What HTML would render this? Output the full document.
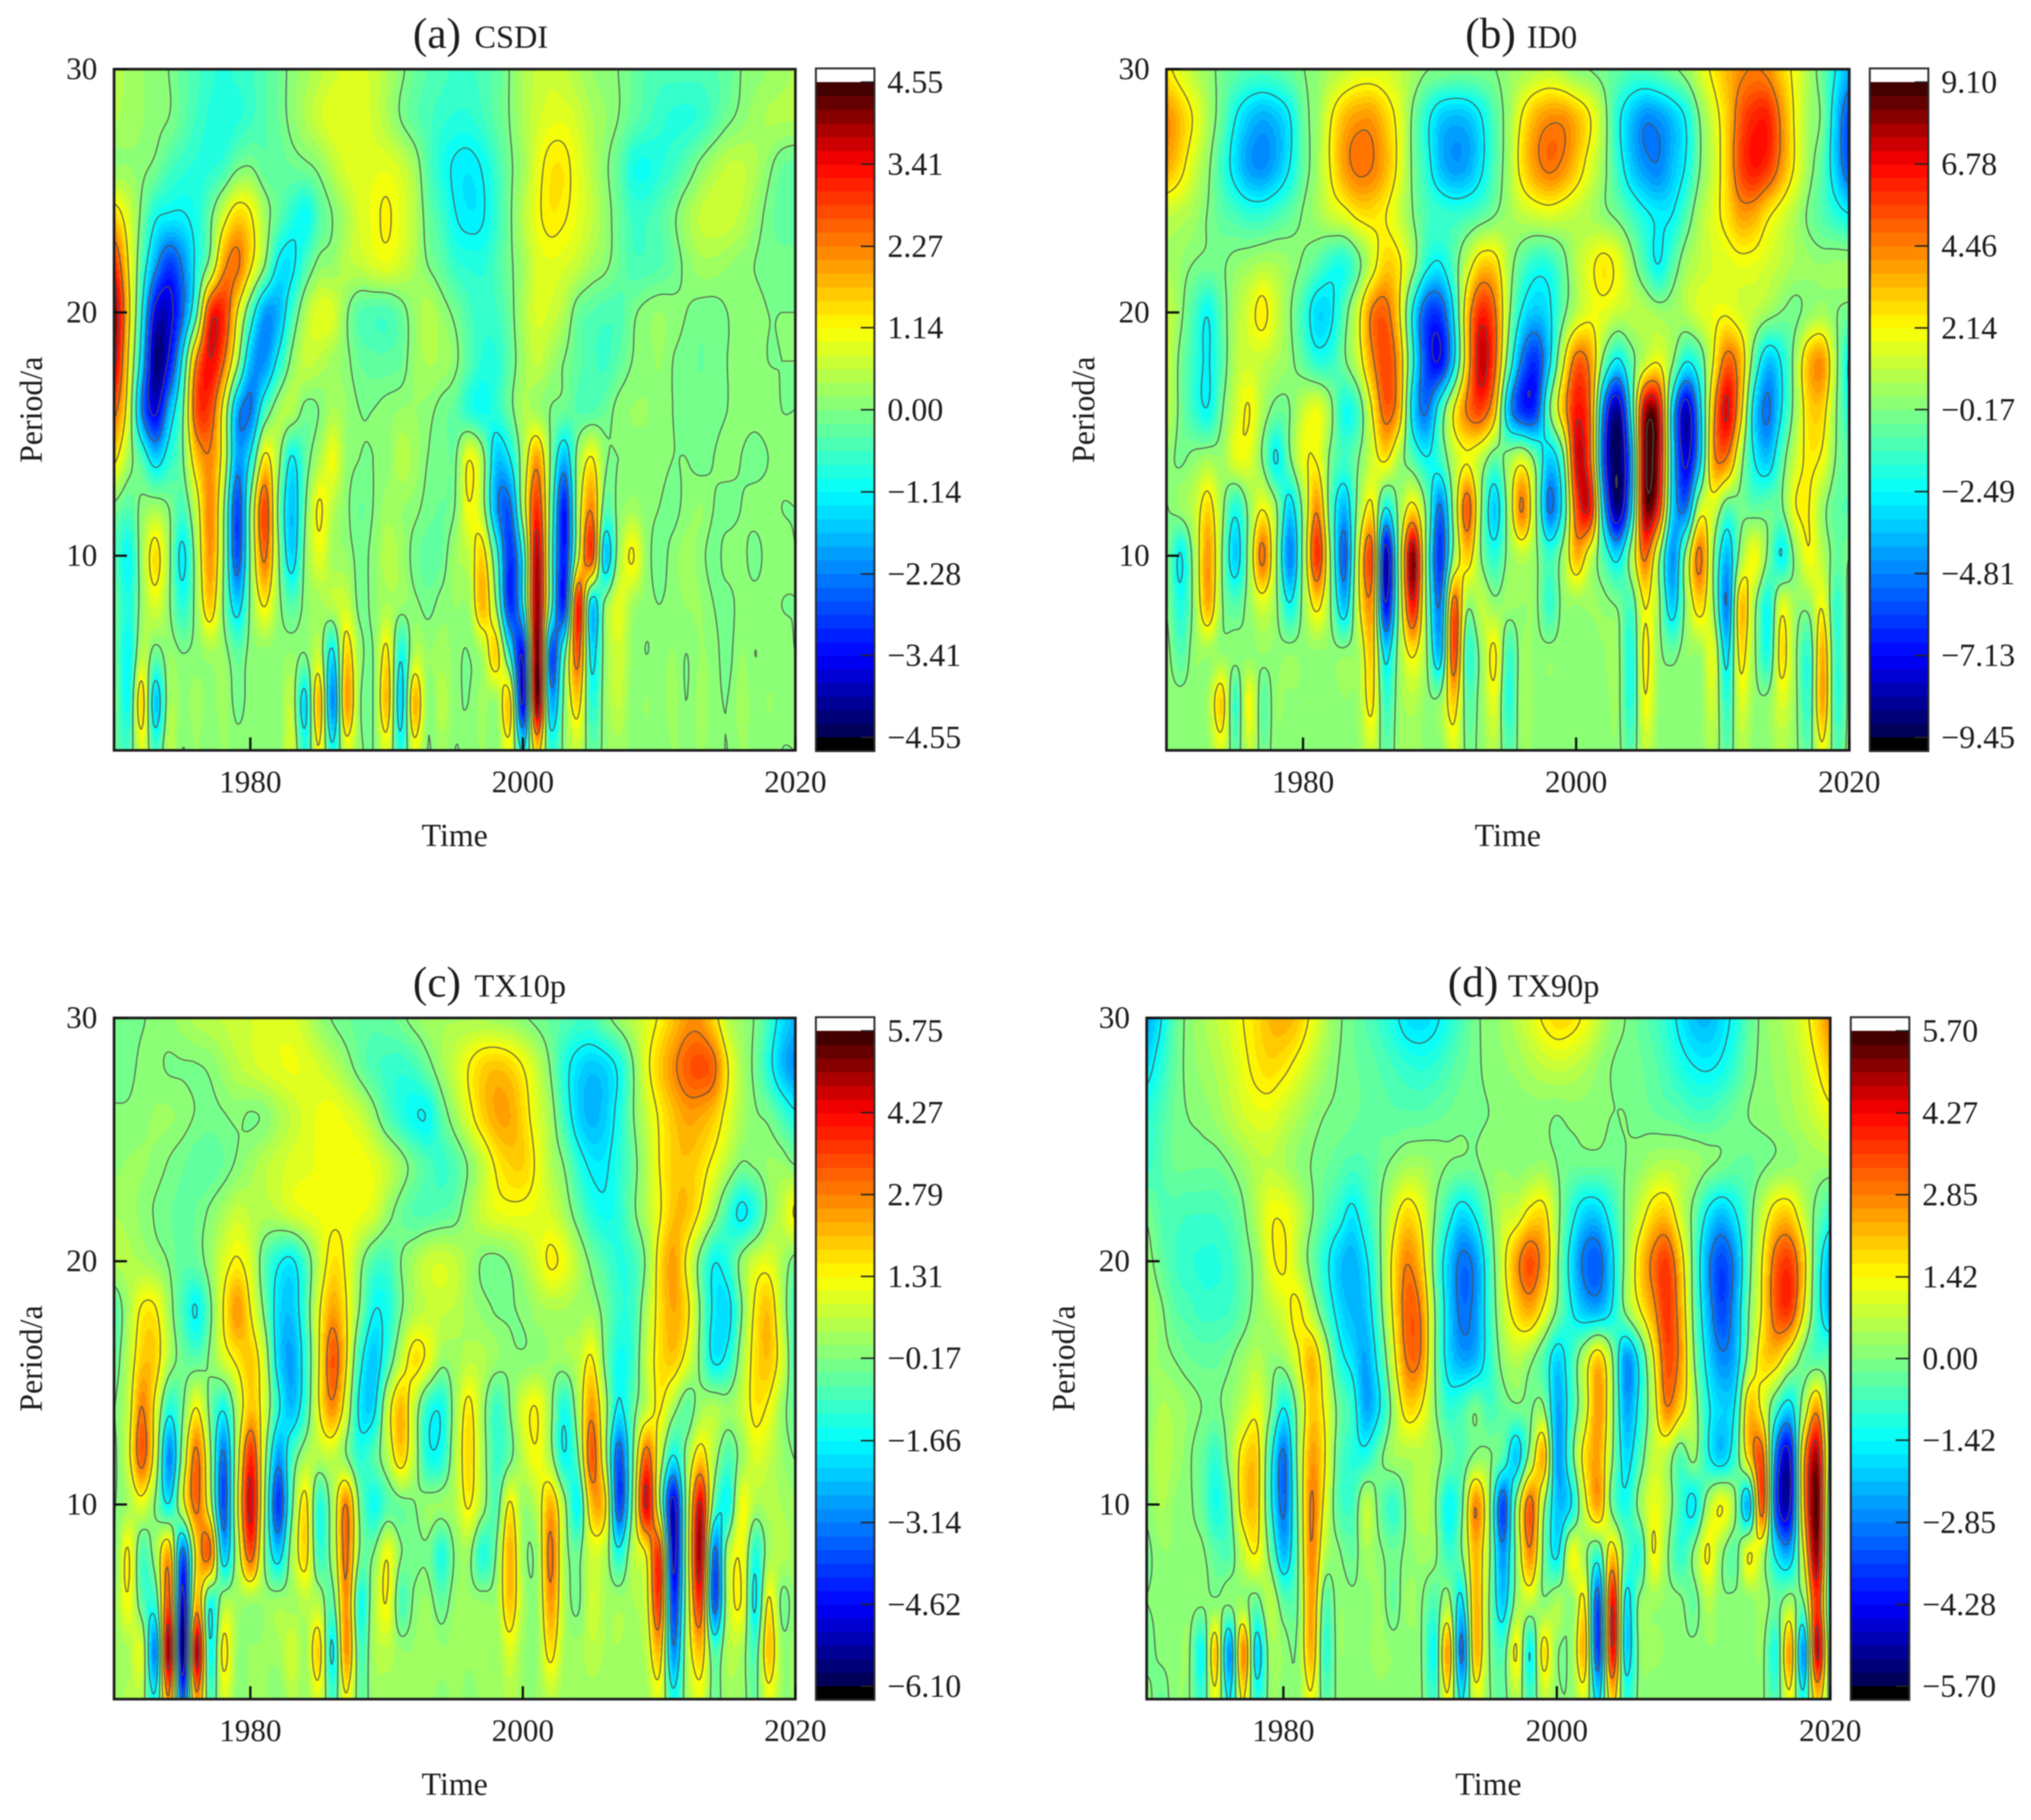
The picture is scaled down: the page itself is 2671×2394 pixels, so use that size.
<!DOCTYPE html>
<html lang="en">
<head>
<meta charset="utf-8">
<title>Wavelet period-time charts</title>
<style>
html,body{margin:0;padding:0;background:#fff;}
svg{display:block;filter:blur(.7px);}
text{font-family:"Liberation Serif","Times New Roman",serif;fill:#1c1c1c;}
</style>
</head>
<body>
<svg id="chart" xmlns="http://www.w3.org/2000/svg" width="2671" height="2394" viewBox="0 0 2671 2394"></svg>
<script>
const years=[1970,1971,1972,1973,1974,1975,1976,1977,1978,1979,1980,1981,1982,1983,1984,1985,1986,1987,1988,1989,1990,1991,1992,1993,1994,1995,1996,1997,1998,1999,2000,2001,2002,2003,2004,2005,2006,2007,2008,2009,2010,2011,2012,2013,2014,2015,2016,2017,2018,2019,2020];
const periods=[30,28,26,24,22,20,18,16,14,12,10,8,6,4,2];
const xTickLabels=[1980,2000,2020];
const yTickLabels=[10,20,30];
const barTicksA=["4.55","3.41","2.27","1.14","0.00","-1.14","-2.28","-3.41","-4.55"];
const barTicksB=["9.10","6.78","4.46","2.14","-0.17","-2.49","-4.81","-7.13","-9.45"];
const barTicksC=["5.75","4.27","2.79","1.31","-0.17","-1.66","-3.14","-4.62","-6.10"];
const barTicksD=["5.70","4.27","2.85","1.42","0.00","-1.42","-2.85","-4.28","-5.70"];
const valuesA=[
[.5,.3,.2,.1,0,-.3,-.5,-.7,-.8,-.7, -.6,-.4,-.2,.1,.3,.5,.7,.8,.8,.7, .4,.1,-.2,-.4,-.5,-.6,-.6,-.5,-.3,0, .4,.6,.7,.6,.4,.2,.1,0,-.2,-.4, -.5,-.5,-.5,-.5,-.4,-.3,0,.1,.2,.3, .4],
[.4,.3,.2,.1,0,-.3,-.6,-.8,-.9,-.8, -.6,-.4,-.2,.1,.4,.7,.9,.9,.9,.7, .4,0,-.3,-.5,-.7,-.8,-.8,-.6,-.3,0, .4,.7,.9,.9,.7,.4,.2,0,-.3,-.5, -.7,-.8,-.8,-.7,-.4,-.1,.1,.3,.4,.4, .4],
[.2,.2,.1,-.1,-.5,-.7,-.8,-.8,-.6,-.1, 0,-.3,-.3,-.2,-.1,.1,.5,.8,.9,.9, .9,.7,.3,-.4,-.9,-1.2,-1.3,-1.1,-.6,-.1, .3,.9,1.3,1.3,.9,.5,.1,-.3,-.9,-1, -.8,-.6,-.3,.1,.4,.6,.6,.4,.1,-.2, -.3],
[1.5,.8,-.1,-1,-1.2,-1.2,-.9,-.2,.8,1.5, 1.2,.3,-.3,-.8,-1.1,-.4,0,.4,.8,1, 1.2,.9,.5,-.2,-.6,-1.1,-1.3,-1.2,-.7,-.1, .5,1,1.3,1.2,.9,.6,.2,-.2,-.6,-.6, -.4,-.1,.3,.6,.7,.7,.5,.2,-.1,-.3, -.3],
[3,1.2,-.5,-2,-2.9,-2.2,-1,.2,2,2.4, 1.3,.1,-1.2,-1.3,-.5,.1,.2,.5,.6,.8, .9,.7,.4,0,-.3,-.7,-.8,-.8,-.5,-.1, .3,.8,.9,.8,.6,.3,.1,-.2,-.5,-.5, -.4,-.2,.1,.3,.3,.2,.1,0,-.1,-.1, -.1],
[4,1.5,-1,-3.6,-3.7,-2.4,-.3,3,3,1.2, -.6,-2,-1.8,-.6,.4,.9,.8,.1,-.4,-.5, -.5,-.2,.2,.5,.2,-.1,-.5,-.7,-.6,-.2, .4,.8,.7,.4,-.2,-.4,-.5,-.5,-.1,.1, .2,.1,0,-.1,-.1,0,.1,.1,0,0, 0],
[3.6,1.2,-1.5,-4.2,-3.3,-1,2.2,3.4,2.4,.3, -1.8,-2.1,-1,.1,.6,.5,.3,.1,-.2,-.3, -.3,-.2,.2,.4,.3,.1,-.4,-.8,-.8,-.3, .3,.6,.3,0,-.3,-.5,-.6,-.3,0,.1, .2,0,-.1,-.2,-.1,0,.1,.1,0,0, 0],
[2.5,.8,-2.2,-3.6,-1.8,-.2,2.7,2.8,.9,-1.9, -2.3,-.6,.3,.4,-.1,0,.4,.2,0,0, .1,.2,.2,.1,-.1,-.3,-.8,-1,-.8,-.2, .4,.3,0,-.2,-.4,-.4,-.2,.1,.2,.2, .1,0,-.1,-.1,-.1,0,.1,.1,.1,0, 0],
[1.3,.3,-.5,-1.5,-.8,-.1,1.6,2.2,.8,-2, -1,1.3,.3,-1.2,-.3,.4,1,.2,0,0, .1,.5,.3,0,-.1,-.1,1.1,.3,-1.6,-1.2, .4,2,0,-1.8,.2,1.2,.1,0,.1,.1, .1,0,0,-.1,0,.1,0,-.1,0,.1, .1],
[-.1,-.4,.1,.3,0,-.5,.7,2.2,.2,-2.8, .1,2.8,0,-1.7,-.1,1.2,.5,.1,-.2,0, .3,.2,.1,-.1,-.2,0,1.1,.4,-2,-2.5, .5,3,-.2,-3.2,.4,2.2,-.3,.1,.3,.1, 0,-.1,.1,.2,0,-.1,0,.1,.1,0, 0],
[-.4,-1.1,.3,1.4,.2,-1.3,.3,2.1,.1,-2.7, .1,2.4,.2,-1.5,.1,.9,.3,.2,-.1,.1, .5,.3,-.1,-.3,-.2,.3,.6,1.5,-.6,-3, -.8,3.8,-.4,-3.2,.7,2.8,-1.6,.3,1.2,.2, -.1,.1,.3,.1,-.1,.1,.1,-.1,.1,.1, 0],
[-.2,-.9,.2,.8,.1,-.8,.2,1.6,0,-1.5, .1,1.2,.2,-.4,.1,.3,.5,.7,-.1,.1, .4,.2,.1,-.1,.1,.2,.3,1.8,.1,-3, -1,4,-.5,-3,3.2,-1.5,.1,.9,.3,.1, 0,.1,.2,.2,0,-.1,.1,.1,.1,0, 0],
[-.2,-1.1,.5,-.2,.2,0,.1,.3,.2,-.3, .1,.1,.1,.2,0,.6,-1.3,1.5,.2,0, 1.3,-1,.5,.2,.3,.1,0,.4,1.5,-1, -3.2,4.3,-2.6,-.4,2.6,-1.3,.2,.7,.2,0, .1,.2,0,.2,.1,-.1,.2,0,.1,.1, 0],
[-.1,-1,1.5,-1.6,.3,.1,.3,.1,.3,-.1, .1,.1,.1,.5,-1.4,1.8,-2.2,2,.1,0, 1.7,-1.5,1.8,.1,.5,.1,0,.3,.2,1.5, -3.5,4.2,-1.8,.1,1.5,-.8,.2,.6,.1,.2, .1,.3,0,.3,.1,0,.3,.1,.2,.1, .1],
[-.3,-.5,.8,-.6,.5,0,.2,0,.2,.1, .1,.1,.1,.7,-.8,1.1,-1,.8,.1,0, .8,-.9,.9,0,.3,0,.1,.2,.1,.9, -1.2,1.5,-.7,.1,.6,-.3,.1,.3,.1,.1, 0,.2,.1,.2,.1,0,.2,.1,.1,0, 0]
];
const valuesB=[
[2.4,1.6,.8,.2,-.4,-.8,-1.1,-1.2,-1,-.6, -.2,.1,.6,1,1.4,1.5,1.4,1,.5,-.1, -.2,-.4,-.4,-.3,-.2,.2,.5,.8,1,.6, 0,-.2,-.5,-.8,-1.2,-1.2,-.9,-.4,.2,1.3, 2.4,3.4,4.2,4.5,4.2,3,1.8,.5,-.7,-2.5, -4],
[4.2,3.2,2,.6,-.7,-2.4,-3.5,-4,-3.6,-2.6, -.6,.3,2,3.4,4,4,3,1.7,-.3,-2, -3.4,-3.8,-3.6,-2.6,-1,.3,2.2,3.6,4.2,4.2, 3.4,2.2,.4,-2,-3.6,-4.6,-4.4,-3.6,-2.4,-.2, 1.4,3,5.2,6.2,6.2,4.2,2,.4,-.4,-3.5, -6],
[3.6,2.6,1.2,.1,-1.4,-3,-4.2,-4.5,-3.8,-2.5, -.7,.4,2.2,3.9,4.7,4.5,3.5,1.8,-.3,-1.8, -3.6,-4.3,-4,-2.8,-1,.4,2.6,4,4.7,4.2, 3,1.5,.2,-1.6,-3.4,-4.4,-4.7,-3.6,-2.4,-.3, 1.2,3,5.5,6.4,5.8,4,2,.3,-1,-3.5, -5.8],
[1,.8,.4,-.2,-.8,-1.2,-1.6,-1.6,-1.2,-.7, -.1,.4,1.1,1.6,2.4,2.6,2.2,1.2,-.1,-1.2, -1.5,-1.6,-1.3,-.8,-.2,.4,.9,1.2,1.4,1.2, .9,.6,.1,-.4,-1.3,-2.2,-2.7,-2.5,-1,.6, 1.6,2.6,3.8,3.6,2.4,1.5,.6,-.3,-1,-1.8, -2.4],
[.6,.2,-.2,-.4,-.3,.1,.4,.7,.6,.2, -.3,-1,-1.9,-2,-.6,1.4,3,2.4,.4,-2, -2.6,-1,1.2,3,2.8,.6,-1,-1.9,-1.8,-.6, .8,1.8,2.5,1.8,.3,-1.2,-2.5,-1,.4,1, 1.4,1.6,1.8,1.7,1.3,.9,.5,.3,.2,.3, .3],
[1.1,.1,-1.3,-2.4,-.8,.6,1.5,2.5,1.2,0, -1.5,-3.2,-2.8,-.8,1.5,4.5,5,2.5,-2.5,-5.8, -6,-2.5,3.2,6.2,4.8,.4,-2.6,-3.6,-2.8,-.6, 1,1.8,1.6,1,.9,.8,.4,.3,.7,1.4, 1.8,2,1.4,.9,.3,-.2,-.4,.2,.5,-.1, -.5],
[1.1,-.4,-1.6,-2.6,-1,.8,1.3,1,.6,.1, -.8,-1.8,-1.6,-.4,1.2,4,5.6,3.6,-2,-6, -7,-3,3.2,7.4,5,-.8,-5,-6.3,-3,1.6, 5,4,-.6,-2.8,-.8,1.2,2,.1,-2.4,-1.3, 2,5,3.5,-.9,-3.6,-2.4,.3,3.4,4,.3, -2.6],
[.9,-.4,-1.6,-2.4,-.4,1.2,2.2,.6,-.5,-.2, 1.2,1.8,.2,-2.2,-1.2,2,5,3.4,-3,-5, -1.6,2,4.6,5.5,3,-3.6,-6.3,-6,-.6,3.2, 6.5,4.5,-5,-8.5,-2,7.6,7,-3,-8,-3.4, 3.6,7,3,-3,-5,-2.6,.3,2.8,2.8,0, -2],
[.1,-.3,.1,.5,.3,1.6,1.6,-.2,-2.6,-.4, 1.8,2,-.4,-1.4,-.3,1.3,2.4,.5,-1,-2.4, -1.5,.9,2,.8,-.8,.3,1.4,-.6,-3.4,-.8, 7,4.8,-6,-9.3,-4,8.4,7.4,-2.8,-7.5,-3.4, 3.8,4.4,.6,-2.4,-3.5,-1,1.2,2.4,1.9,-.2, -.7],
[-.2,.3,1,2.8,.4,-2,.1,2,.1,-3.2, .3,4.2,-1,-3.8,.2,2.4,-2.4,.2,2.6,-.4, -5,.3,5.2,.1,-3.4,.4,4.6,.2,-5,-2, 5.4,6.4,-3.8,-8.8,-3,8,6,-3,-5,1, 1.4,-.9,-.4,-.8,-.6,-.4,2,2.2,.3,-.8, -1],
[-.3,-2.6,.4,4,.1,-3.4,.3,4.8,.2,-4.8, .3,6,-.2,-5.4,1.4,5.2,-8,.3,8.2,-.3, -6.3,.2,3,-.1,-1.8,.1,.9,.1,-1.5,.3, 3.5,1.2,-1.2,-3,.4,4.8,.5,-4.5,.2,4.8, .1,-3.8,.3,2,-.3,-2.5,.1,2,.8,-.6, -.2],
[-.2,-2,.2,3.6,.1,-1,.2,1.4,.1,-2.4, .2,2.6,-.1,-3.6,1.5,3.8,-7,.1,6.5,-.1, -4.8,5,.2,1,.2,.3,.2,.1,-1.6,.1, .2,.3,.1,-.3,-1.2,2.2,.3,-3.4,.2,2.8, .2,-4.8,3.2,.4,-2.2,1.6,.3,.2,2,-1.6, .1],
[.1,-1,.2,.3,.2,.1,.1,.2,.1,.2, .1,.1,.1,.1,.5,3,-3,.3,2.4,.1, -3.6,5.5,-1.5,.2,2.4,-1.4,.3,.1,.1,.1, .1,.1,.2,.2,-2,2.4,.2,-.5,.2,.3, 1.6,-3,2.5,.2,-2,2.6,.2,-1.6,3.6,-1.6, .1],
[.1,.1,.1,.5,3,-1.5,2,-.8,.2,.1, .2,.2,.1,.2,.4,2.5,-1.5,.3,.8,.1, .2,3,-.8,.2,1.6,-1.8,.5,.1,.1,.1, .1,.2,.1,.2,-1.8,2,.2,.1,.1,.1, 1.2,-1.7,1.5,.2,.1,1.5,.2,-1.5,3.8,-1.6, .1],
[.1,.1,.1,.2,1.5,-.8,1,-.5,.1,.1, .1,.1,.1,.1,.2,1.2,-.8,.2,.4,.1, .1,1.5,-.4,.1,.8,-.9,.2,.1,.1,.1, .1,.1,.1,.1,-.9,1,.1,.1,.1,.1, .6,-.9,.7,.1,.1,.7,.1,-.8,1.9,-.9, .1]
];
const valuesC=[
[-.3,-.3,-.2,-.1,0,.2,.4,.5,.6,.7, .8,.9,1,.9,.6,.1,-.2,-.4,-.5,-.6, -.5,-.3,0,.2,.3,.3,.3,.3,.2,.1, -.1,-.3,-.5,-.7,-.9,-.9,-.4,.1,.5,.9, 1.4,2,2.5,2.5,1.7,.5,.1,-.2,-1,-2, -2.5],
[-.4,-.3,-.1,-.1,-.2,-.2,-.2,-.1,.2,.5, .7,.9,1,1.1,1,.8,.5,.1,-.4,-.8, -1,-1.1,-.9,-.4,.2,.7,1.3,1.8,2,1.8, 1.3,.6,-.2,-1.3,-2,-2.3,-2.1,-1.5,-.3,1, 1.9,2.6,3.2,3.4,3,1.4,.3,-.3,-1.3,-2.4, -3],
[-.1,-.1,0,.1,.1,0,-.2,-.3,-.2,-.1, -.2,-.1,.3,.6,.9,1.1,1.2,1,.7,.1, -.7,-1.2,-1.6,-1.6,-.6,.2,1,1.8,2.3,2.3, 1.7,.9,.2,-1,-2.1,-2.5,-2.2,-1.4,-.3,.6, 1.4,2,2.4,2.3,1.9,1,.3,-.1,-.3,-.9, -1.5],
[0,.1,.1,0,-.2,-.4,-.6,-.6,-.4,-.1, .2,.5,.7,.9,1,1.1,1.2,1.2,1.2,1, .6,.1,-.4,-.8,-1,-.7,-.1,.6,1.4,1.8, 1.8,1.2,.4,-.2,-1.2,-1.8,-1.8,-1.2,-.5,.4, 1.3,1.9,2,1.7,1.1,.4,-.2,-.1,.1,.1, -.2],
[.3,.2,0,-.2,-.4,-.5,-.4,-.1,.3,.7, .5,.4,.5,.8,1,1.1,1.2,1.2,1.1,.8, .1,-.4,-.7,-.7,-.6,-.4,.2,.7,1,1.1, 1.1,1,.8,.3,-.5,-1.2,-1.5,-1.2,-.4,.4, 1.2,2,2,1.2,.1,-1,-1.8,-1.2,0,.6, 1.4],
[.4,.4,.3,.1,-.2,-.6,-.5,.1,.9,1.4, .8,-.6,-1.5,-1.8,-.8,.6,1.6,1.2,.1,-.8, -.9,-.2,.3,.7,.8,.6,.2,-.2,-.3,-.1, .3,.8,1.4,1.1,.4,-.3,-.8,-1.2,-1,-.1, 1.6,2.4,1.2,-.4,-1.6,-1.2,0,.8,1,.3, -.4],
[-.7,.3,1.4,1.4,.2,-.9,-1.7,-.4,1.3,2.5, 1.3,-.3,-2,-2.3,-.9,1.1,2.4,1.4,-.2,-1.6, -1.4,-.3,.4,.6,.6,.5,.2,0,-.2,-.2, -.1,.2,.3,.3,.2,.2,-.4,-1.1,-1,.3, 1.6,2.3,1.6,-.2,-1.8,-2,-.3,1.4,2,.4, -1],
[-.5,.5,1.9,1.8,.3,-.4,-.6,-.1,.8,1.5, 1.9,.6,-2,-2.7,-1.2,1.2,3.3,1.5,-1.2,-2.3, -1,.6,1.6,1.1,.1,.2,.5,.4,.1,-.1, -.1,0,.1,.2,.5,1.4,-.3,-1.5,-1,.6, 1.6,1.9,1,-.3,-1.8,-1.4,.2,1.6,2,.8, -1],
[-.2,.7,2.8,1.1,-1.3,-.3,1.3,-.3,-1.5,.4, 2,.8,-1.4,-2.4,-1,1.2,2.6,.8,-1.8,-2, .6,2.1,.5,-1.2,-1.5,.2,1.5,.2,-1,-.2, .9,1.3,.1,-1.4,.3,2.5,.3,-1.8,-.6,.6, 1.4,.2,-.6,.2,.4,.1,.6,1.5,1.2,.1, -.5],
[-.3,.9,3.2,.8,-3,.2,3,.2,-3.3,.6, 3.8,.4,-2.8,-.9,.3,.4,.6,-.1,-1.2,-.7, .4,1.8,.4,-1.4,-1.3,.4,1.7,.3,-1,-.4, .6,1.2,.2,-1.6,-.4,3.3,.4,-3.6,-.5,3.2, .7,-1.7,.1,1.8,.3,-.8,.1,.9,.6,.1, -.2],
[-.2,.3,.9,-.2,-1.6,.8,3,.6,-3.7,.9, 4.5,.1,-4,-.5,1.6,-1.2,.3,2.8,-.3,-1.5, -.7,-.4,-.2,.1,.1,.4,1.4,.2,-.7,1.4, .1,.6,2.2,.2,-1.6,2,1.6,-3.8,-.2,4.4, .2,-5,.2,4.4,-.6,-1.5,1.2,.3,.4,.3, .1],
[-.2,1.4,-.8,.2,2.2,-3.5,1.5,3,-2.3,.4, 3.3,-.1,-2.2,.2,1.7,-1,.2,3,-.2,-.2, 1.2,-.1,-.3,-.3,-1.3,-.1,.1,-1.3,-.2,2.2, .1,.1,3,.3,-.4,.8,.4,-1.4,.4,1.3, 3.5,-4.9,.3,4.8,-3.3,.3,1.2,-1.3,.2,.4, .2],
[.1,1.2,-.6,-1,3.3,-5,2.2,-1.4,.3,.2, .1,.1,.2,.2,.5,.4,-.6,2.6,-1.4,.3, 1.3,-.8,-.1,.1,-.5,.1,.1,.1,.2,2, .3,.1,2.5,.4,-.3,.8,.3,.2,.3,.8, 3.5,-4,.3,3.6,-3.6,.4,1.3,-1.8,1.4,-.3, .1],
[.1,.3,.8,-3,5,-5.8,4.8,-1.5,1.5,.1, .1,.1,.2,.8,.2,1.8,-1.8,2.6,-.8,.3, .5,.1,.1,.3,.1,.2,.1,.2,.1,.9, .1,.1,1.6,.3,.2,.5,.3,.3,.2,.5, 2,-3,.4,2,-.8,.4,.3,-.8,2,.1, .2],
[.1,.4,.3,-1.5,2.7,-3.5,2.5,-.8,.8,0, .1,.1,-.1,.4,.1,.9,-.9,1.2,-.5,.1, .2,.1,.1,.1,0,.1,0,.1,.1,.4, .1,.1,.5,.1,.1,.2,.1,.1,.1,.2, .9,-1.4,.2,1,-.4,.2,.1,-.4,1,.1, .1]
];
const valuesD=[
[-2.3,-1.5,-.4,.1,.4,.7,1,1.4,1.8,2.2, 2.3,2,1.3,.6,.1,-.2,-.5,-.8,-1.2,-1.7, -1.8,-1.6,-1.1,-.6,-.1,.1,.3,.6,1,1.5, 1.8,1.7,1.3,.7,.2,0,-.3,-.6,-1,-1.6, -2.1,-2.2,-1.8,-1.2,-.4,.1,.4,.6,1.1,1.9, 2.8],
[-1.7,-1,-.3,.1,.3,.5,.8,1.2,1.6,1.8, 1.6,1.2,.7,.3,0,-.2,-.3,-.5,-.7,-.9, -1,-.9,-.6,-.3,-.1,.1,.2,.3,.5,.7, .8,.7,.5,.2,0,-.1,-.2,-.4,-.7,-1.1, -1.4,-1.5,-1.3,-.8,-.2,.1,.3,.5,.8,1.4, 2],
[-1,-.6,-.2,0,.1,.3,.6,.9,1.1,1.1, .8,.5,.2,0,-.1,-.2,-.3,-.3,-.4,-.4, -.4,-.3,-.2,-.1,-.1,0,.1,.1,.1,.1, 0,.1,.1,.1,0,0,-.1,-.2,-.3,-.4, -.6,-.6,-.4,-.2,0,.1,.2,.4,.6,.9, 1.2],
[-.8,-.5,-.2,-.2,-.2,-.2,0,.3,.6,.7, .5,.2,0,-.2,-.4,-.6,-.5,-.2,.1,.4, .4,.2,0,-.1,-.1,.2,.2,.1,.2,.3, 0,-.2,-.2,-.2,-.2,0,.2,.5,.6,.5, .4,.1,-.1,-.3,-.3,-.1,.1,.2,.3,.3, .3],
[-.1,-.5,-.6,-.7,-.7,-.7,-.5,-.1,.6,1.3, 1.3,.8,.1,-.5,-1,-1.6,-.9,-.1,1,1.8, 1.3,.1,-1,-1.8,-1.3,-.2,.7,.9,1.6,1.7, .3,-1,-1.9,-1.9,-1,.1,.9,1.8,2,.9, -.2,-1.5,-2.1,-1.5,-.4,.8,1.8,1.9,.8,-.2, -.9],
[.2,-.3,-.7,-.9,-1,-1,-.8,-.3,.2,1.2, 1.5,.7,-.2,-1.1,-2,-2.3,-1.6,-.2,1.6,2.8, 2,-.2,-1.9,-3,-2.6,-.8,1,2.5,3.4,2.4, .2,-1.7,-3,-3.2,-1.7,.2,1.8,3,3.6,2, -.3,-2.5,-3.5,-2.6,-.4,1.4,3.2,3.6,1.9,-.7, -2.3],
[.4,.1,-.4,-.6,-.8,-.8,-.7,-.3,.2,.6, 1,1.6,.6,-.6,-1.7,-2.2,-2,-.4,1.5,3.2, 2.8,.2,-1.8,-3,-2.6,-.9,.7,1.8,2.3,1.3, -.1,-1.3,-2.1,-2.2,-1.4,.1,1.3,2.5,3.7,2.4, -.2,-2.2,-3.5,-2.4,-.1,1.5,3.3,3.6,1.5,-.8, -2.3],
[.3,.2,0,-.2,-.3,-.3,-.1,.3,.6,.2, .3,1.2,2.2,.8,-1,-1.7,-2.4,-1,1,2.9, 2.8,.2,-1.7,-2.4,-2.2,-1,.2,.6,.2,-.6, -1.9,-.8,.7,2,.2,-2.6,-1.2,1.2,3.4,2.6, .1,-1.7,-2.7,-2.2,.3,1.8,1.9,.8,-.2,-.5, -.4],
[.1,.5,.4,.2,0,-.1,.2,.7,1.2,.1, -1.4,.2,2,1.3,-.2,-.9,-2.4,-1.5,.3,1.8, 1.5,.2,-.9,-.7,-.1,-.7,-.3,-.1,-.1,.1, -2.4,-.9,.8,2.6,.4,-2.4,-1.2,.7,2.8,1.8, .5,-1.2,-1.9,-1.4,2,1.2,-.8,-1.8,.4,2.5, -.6],
[.2,.7,.4,.1,-.3,-.9,.2,1.7,1.9,-.9, -3,.1,2.5,1.5,-.4,-1,-1.1,-.2,.4,.5, .6,.4,-.3,-.5,.1,.1,-.6,-2,.3,2.2, -2.5,-.5,1.7,2.4,.2,-1.8,-.6,.8,.6,-.5, .2,-1.2,-2,-.8,1.8,3.2,-3,-4.4,2.2,4.8, -.4],
[.1,.5,.2,.1,-.3,-1.2,-.4,1.8,1.9,-1, -3,-.1,2.9,1.2,-.5,-.7,.7,-.2,-.9,.1, .7,.2,-1.4,-.3,2.8,.4,-3.5,.2,3.2,.3, -2.1,-1.5,1,2.4,-.2,-1.2,.2,1.2,.6,-.8, -1.6,.4,1.4,.2,-2.2,3.4,-3.5,-4.5,2.2,5.4, -1],
[-.1,.2,.2,.1,.1,-.4,-.5,.8,1.4,-.2, -2.2,-.2,2.8,.6,.1,-.3,.4,.1,-.2,.1, .3,.2,-.8,-.1,2.2,.3,-2.6,.2,2.7,-.1, -1.6,1.2,.3,-.8,2,-.4,-1,1.4,.2,-.9, .1,1.5,.2,-.4,1.4,.6,-1.6,-2.2,1.2,5, -1.2],
[0,.1,.1,.2,.1,.1,.1,.3,-.3,.7, -.4,-.1,2.5,-.4,.2,.1,.1,.3,-.3,.3, .1,-.6,.4,-1.7,2.2,.1,-2,.3,.7,.1, .5,.1,1.5,-3.4,4.2,-1.6,.1,.3,.2,.1, -.3,.6,.1,.1,.1,.4,-.3,.4,-.1,3.8, -1.4],
[-.2,.1,.1,.2,-1.3,2,-2.6,2.8,-1.8,.3, .2,.1,2.3,-.8,.2,.1,.2,.3,.2,.1, .1,-1.3,2.5,-3.1,2.2,.1,-.6,1.5,-1.4,1.7, .1,.2,2.1,-3.6,4.2,-1.8,.1,.3,.2,.1, .1,.2,.2,.1,.1,.2,-1.1,2.5,-2.6,4.6, -.8],
[.2,-.3,.2,.1,-.8,1.2,-1.5,1.5,-1,.2, .1,.1,1.3,-.4,.1,.1,.1,.2,.1,0, .1,-.7,1.3,-1.5,1,.1,-.3,.6,-.7,.7, .1,.1,1,-1.7,1.9,-.9,.1,.1,.1,.1, 0,.1,.1,.1,0,.1,-.6,1.2,-1.2,2, -.3]
];
const frames=[
 {x:150,y:91,w:896,h:896},
 {x:1534,y:91,w:898,h:896},
 {x:150,y:1339,w:896,h:896},
 {x:1508,y:1339,w:899,h:896}
];
const panels=[
 {key:'csdi',letter:'(a)',title:'CSDI',values:valuesA,ticks:barTicksA,frame:frames[0],letterX:543,nameX:624,base:63},
 {key:'id0',letter:'(b)',title:'ID0',values:valuesB,ticks:barTicksB,frame:frames[1],letterX:1927,nameX:2008,base:63},
 {key:'tx10p',letter:'(c)',title:'TX10p',values:valuesC,ticks:barTicksC,frame:frames[2],letterX:543,nameX:624,base:1311},
 {key:'tx90p',letter:'(d)',title:'TX90p',values:valuesD,ticks:barTicksD,frame:frames[3],letterX:1904,nameX:1983,base:1311}
];
const BANDS=48,STEP=2,NS='http://www.w3.org/2000/svg';
const root=document.getElementById('chart');
function make(tag,attrs,parent,txt){
  const el=document.createElementNS(NS,tag);
  for(const k in attrs)el.setAttribute(k,attrs[k]);
  if(txt!==undefined)el.textContent=txt;
  parent.appendChild(el);
  return el;
}
function xScale(f,year){return f.x+(year-years[0])/(years[years.length-1]-years[0])*f.w;}
function yScale(f,period){return f.y+(periods[0]-period)/(periods[0]-periods[periods.length-1])*f.h;}
function num(s){return parseFloat(s);}
function cubic(a,b,c,d,t){return b+.5*t*(c-a+t*(2*a-5*b+4*c-d+t*(3*(b-c)+d-a)));}
const stops=[[0,0,0,74],[.125,0,0,255],[.375,0,255,255],[.5,128,255,128],[.625,255,255,0],[.875,255,0,0],[1,50,0,0]];
function cmap(t){
  for(let i=1;i<stops.length;i++){
    if(t<=stops[i][0]){
      const a=stops[i-1],b=stops[i],u=(t-a[0])/(b[0]-a[0]);
      return 'rgb('+Math.round(a[1]+(b[1]-a[1])*u)+','+Math.round(a[2]+(b[2]-a[2])*u)+','+Math.round(a[3]+(b[3]-a[3])*u)+')';
    }
  }
  return 'rgb(50,0,0)';
}
function sampleField(p){
  const f=p.frame,nx=Math.ceil(f.w/STEP),ny=Math.ceil(f.h/STEP),grid=[];
  const R=p.values,nr=periods.length,nc=years.length;
  for(let j=0;j<=ny;j++){
    const period=periods[0]-(periods[0]-periods[nr-1])*j/ny;
    const rf=(periods[0]-period)/(periods[0]-periods[1]);
    const r=Math.min(nr-2,Math.floor(rf)),t=rf-r;
    const r0=R[Math.max(0,r-1)],r1=R[r],r2=R[r+1],r3=R[Math.min(nr-1,r+2)];
    const col=new Float64Array(nc);
    for(let c=0;c<nc;c++)col[c]=cubic(r0[c],r1[c],r2[c],r3[c],t);
    const line=new Float64Array(nx+1);
    for(let i=0;i<=nx;i++){
      const cf=(nc-1)*i/nx,c=Math.min(nc-2,Math.floor(cf)),u=cf-c;
      line[i]=cubic(col[Math.max(0,c-1)],col[c],col[c+1],col[Math.min(nc-1,c+2)],u);
    }
    grid.push(line);
  }
  return {grid,nx,ny};
}
function drawBands(p,g,field,vmin,vmax){
  const f=p.frame,dx=f.w/field.nx,dy=f.h/field.ny;
  const parts=[];
  for(let k=0;k<BANDS;k++)parts.push([]);
  for(let j=0;j<field.ny;j++){
    const line=field.grid[j];let start=0,cur=-1;
    for(let i=0;i<=field.nx;i++){
      let k=-2;
      if(i<field.nx){k=Math.floor((line[i]-vmin)/(vmax-vmin)*BANDS);k=Math.max(0,Math.min(BANDS-1,k));}
      if(k!==cur){
        if(cur>=0){
          const x0=f.x+start*dx,x1=f.x+i*dx,y0=f.y+j*dy;
          parts[cur].push('M'+x0.toFixed(1)+' '+y0.toFixed(1)+'H'+x1.toFixed(1)+'V'+(y0+dy+.4).toFixed(1)+'H'+x0.toFixed(1)+'Z');
        }
        cur=k;start=i;
      }
    }
  }
  for(let k=0;k<BANDS;k++){
    if(!parts[k].length)continue;
    const el=make('path',{d:parts[k].join(''),fill:cmap((k+.5)/BANDS),'shape-rendering':'crispEdges'},g);
    
    
  }
}
function drawContours(p,g,field,levels){
  const f=p.frame,dx=f.w/field.nx,dy=f.h/field.ny,G=field.grid;
  levels.forEach(function(L){
    const d=[];
    for(let j=0;j<field.ny;j++){
      for(let i=0;i<field.nx;i++){
        const a=G[j][i],b=G[j][i+1],c=G[j+1][i+1],e=G[j+1][i];
        const pts=[];
        if((a>=L)!==(b>=L))pts.push([i+(L-a)/(b-a),j]);
        if((b>=L)!==(c>=L))pts.push([i+1,j+(L-b)/(c-b)]);
        if((c>=L)!==(e>=L))pts.push([i+(L-e)/(c-e),j+1]);
        if((e>=L)!==(a>=L))pts.push([i,j+(L-a)/(e-a)]);
        for(let q=0;q+1<pts.length;q+=2){
          d.push('M'+(f.x+pts[q][0]*dx).toFixed(1)+' '+(f.y+pts[q][1]*dy).toFixed(1)+'L'+(f.x+pts[q+1][0]*dx).toFixed(1)+' '+(f.y+pts[q+1][1]*dy).toFixed(1));
        }
      }
    }
    if(d.length){
      const el=make('path',{d:d.join(''),fill:'none',stroke:'#4f4f4f','stroke-width':1.6,'stroke-opacity':.85},g);
      
      
    }
  });
}
function drawColorbar(p,g,vmin,vmax){
  const f=p.frame,bx=f.x+f.w+27,bw=77,top=f.y-1,bottom=f.y+f.h+1,hi=f.y+17,lo=f.y+f.h-17;
  const yv=function(v){return lo-(v-vmin)/(vmax-vmin)*(lo-hi);};
  const bar=make('g',{},g);
  
  
  for(let k=0;k<BANDS;k++){
    const v0=vmin+(vmax-vmin)*k/BANDS,v1=vmin+(vmax-vmin)*(k+1)/BANDS;
    const r=make('rect',{x:bx,y:yv(v1),width:bw,height:yv(v0)-yv(v1)+.5,fill:cmap((k+.5)/BANDS),'shape-rendering':'crispEdges'},bar);
    
    
  }
  const under=make('rect',{x:bx,y:lo,width:bw,height:bottom-lo,fill:'#000'},bar);
  
  
  const frame=make('rect',{x:bx,y:top,width:bw,height:bottom-top,fill:'none',stroke:'#2a2a2a','stroke-width':2.5},bar);
  
  
  p.ticks.forEach(function(s){
    const v=num(s),y=yv(v);
    const t=make('line',{x1:bx+bw-18,x2:bx+bw,y1:y,y2:y,stroke:'#222','stroke-width':2},bar);
    
    
    const lab=make('text',{x:bx+bw+17,y:y+14,'font-size':42},bar,s.replace('-','\u2212'));
    
    
  });
}
panels.forEach(function(p){
  const f=p.frame;
  const g=make('g',{},root);
  
  
  const vmax=num(p.ticks[0]),vmin=num(p.ticks[p.ticks.length-1]);
  const field=sampleField(p);
  drawBands(p,g,field,vmin,vmax);
  drawContours(p,g,field,p.ticks.map(num));
  const border=make('rect',{x:f.x,y:f.y,width:f.w,height:f.h,fill:'none',stroke:'#1d1d1d','stroke-width':3.5},g);
  
  
  xTickLabels.forEach(function(v){
    const x=xScale(f,v);
    const tk=make('line',{x1:x,x2:x,y1:f.y+f.h,y2:f.y+f.h-17,stroke:'#111','stroke-width':3},g);
    
    
    const lb=make('text',{x:x,y:f.y+f.h+55,'font-size':41,'text-anchor':'middle'},g,String(v));
    
    
  });
  yTickLabels.forEach(function(v){
    const y=yScale(f,v);
    const tk=make('line',{x1:f.x,x2:f.x+17,y1:y,y2:y,stroke:'#111','stroke-width':3},g);
    
    
    const lb=make('text',{x:f.x-22,y:y+13,'font-size':41,'text-anchor':'end'},g,String(v));
    
    
  });
  const xt=make('text',{x:f.x+f.w/2,y:f.y+f.h+126,'font-size':42,'text-anchor':'middle'},g,'Time');
  
  
  const yt=make('text',{transform:'translate('+(f.x-95)+','+(f.y+f.h/2)+') rotate(-90)','font-size':42,'text-anchor':'middle'},g,'Period/a');
  
  
  const t1=make('text',{x:p.letterX,y:p.base,'font-size':57},g,p.letter);
  
  
  const t2=make('text',{x:p.nameX,y:p.base,'font-size':42.5},g,p.title);
  
  
  drawColorbar(p,g,vmin,vmax);
});
</script>
</body>
</html>
